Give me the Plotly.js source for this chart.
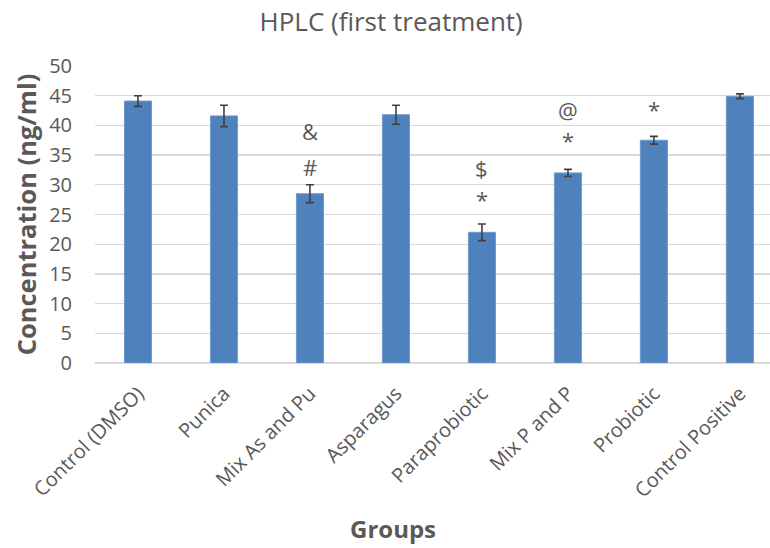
<!DOCTYPE html>
<html>
<head>
<meta charset="utf-8">
<script src="https://cdn.plot.ly/plotly-3.0.1.min.js"></script>
<style>html,body{margin:0;padding:0;background:#fff;}#chart{width:770px;height:548px;}</style>
</head>
<body>
<div id="chart"></div>
<script>
var groups = ["Control (DMSO)", "Punica", "Mix As and Pu", "Asparagus", "Paraprobiotic", "Mix P and P", "Probiotic", "Control Positive"];
var concentration = [44.1, 41.6, 28.5, 41.8, 22.0, 32.0, 37.5, 44.9];
var errors = [0.9, 1.8, 1.5, 1.6, 1.4, 0.6, 0.65, 0.4];
var markGroups = ["Mix As and Pu", "Mix As and Pu", "Paraprobiotic", "Paraprobiotic", "Mix P and P", "Mix P and P", "Probiotic"];
var markSymbols = ["&", "#", "$", "*", "@", "*", "*"];
var markLevels = [39.0, 33.0, 32.8, 27.6, 42.6, 37.5, 42.7];

var grey = "#595959";
var trace = {
  type: "bar",
  x: groups,
  y: concentration,
  marker: {color: "#4f81bd", line: {color: "#6f9ad0", width: 1}},
  error_y: {type: "data", array: errors, visible: true, color: "#404040", thickness: 1.6, width: 4}
};

var annotations = markSymbols.map(function(s, i) {
  return {x: markGroups[i], y: markLevels[i], xref: "x", yref: "y", text: s, showarrow: false,
          font: {family: "Open Sans", size: 22, color: grey}};
});
annotations.push({text: "<b>Groups</b>", xref: "paper", yref: "paper", x: 0.4415, y: -0.556,
  xanchor: "center", yanchor: "middle", showarrow: false,
  font: {family: "Open Sans", size: 24, color: grey}});

var layout = {
  width: 770, height: 548,
  margin: {l: 95, r: 0, t: 66, b: 185},
  paper_bgcolor: "#fff", plot_bgcolor: "#fff",
  showlegend: false,
  bargap: 0.685,
  title: {text: "HPLC (first treatment)", x: 0.508, xref: "container", y: 0.96, yref: "container", yanchor: "middle",
          font: {family: "Open Sans", size: 26, color: grey}},
  xaxis: {
    range: [-0.5, 7.35], tickangle: -45, showgrid: false, showline: false, zeroline: false,
    ticks: "", ticklabelstandoff: 14, tickfont: {family: "Open Sans", size: 20, color: grey}
  },
  yaxis: {
    range: [0, 50], dtick: 5, showgrid: true, gridcolor: "#d9d9d9", gridwidth: 1.3,
    zeroline: true, zerolinecolor: "#d9d9d9", zerolinewidth: 1.3, showline: false,
    ticks: "", ticklabelstandoff: 22, tickfont: {family: "Open Sans", size: 20, color: grey},
    title: {text: "<b>Concentration (ng/ml)</b>", standoff: 5, font: {family: "Open Sans", size: 25.5, color: grey}}
  },
  annotations: annotations
};

Plotly.newPlot("chart", [trace], layout, {displayModeBar: false, staticPlot: true});
</script>
</body>
</html>
